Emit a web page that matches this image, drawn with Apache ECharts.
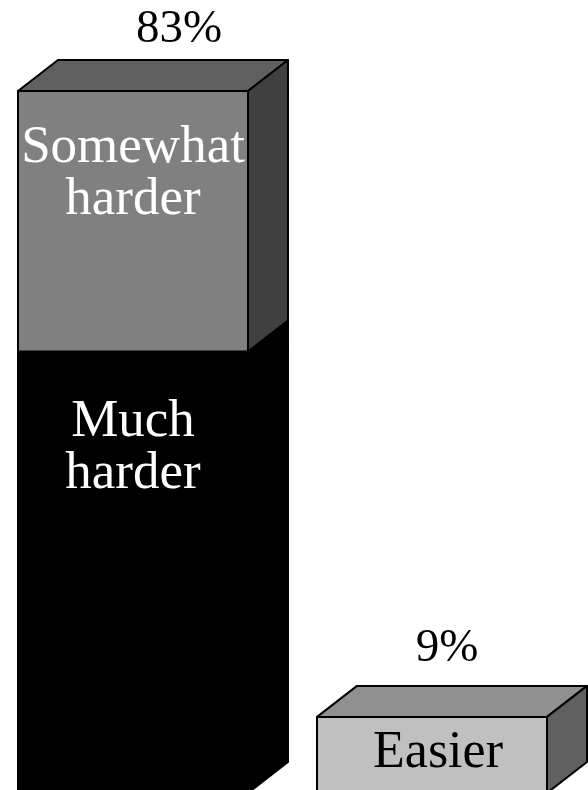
<!DOCTYPE html>
<html>
<head>
<meta charset="utf-8">
<style>html,body{margin:0;padding:0;background:#fff}#c{width:588px;height:790px}</style>
<script src="https://cdn.jsdelivr.net/npm/echarts@6/dist/echarts.min.js"></script>
</head>
<body>
<div id="c"></div>
<script>
const categories = ['Harder', 'Easier'];
const totalLabels = ['83%', '9%'];
const segmentNames = ['Much harder', 'Somewhat harder', 'Easier'];
const segmentCategory = [0, 0, 1];
const segmentStart = [0, 52.2, 0];
const segmentEnd = [52.2, 83, 9];

const FRONT = ['#000000', '#808080', '#c0c0c0'];
const TOP = ['#000000', '#606060', '#909090'];
const SIDE = ['#000000', '#404040', '#606060'];
const TEXT = ['#ffffff', '#ffffff', '#000000'];
const TEXT_OFFSET = [97, 83, 36];
const TEXT_SHIFT = [0, 0, 6];
const TEXT_SIZE = [53, 53, 52];
const DEPTH_X = 40, DEPTH_Y = 31;
const FONT = '"Liberation Serif", "Times New Roman", serif';
const PCT_POS = [[46, -61], [15, -68.5]];

const chart = echarts.init(document.getElementById('c'));

function renderItem(params, api) {
  const i = params.dataIndex;
  const cat = api.value(0);
  const c = api.coord([cat, api.value(1)]);
  const t = api.coord([cat, api.value(2)]);
  const w = api.size([1, 0])[0] * 0.7692;
  const x0 = c[0] - w / 2, x1 = c[0] + w / 2, y0 = c[1], y1 = t[1];
  const line = { stroke: '#000', lineWidth: 2, lineJoin: 'round' };
  const children = [
    { type: 'polygon', shape: { points: [[x0, y1], [x0 + DEPTH_X, y1 - DEPTH_Y], [x1 + DEPTH_X, y1 - DEPTH_Y], [x1, y1]] },
      style: Object.assign({ fill: TOP[i] }, line) },
    { type: 'polygon', shape: { points: [[x1, y1], [x1 + DEPTH_X, y1 - DEPTH_Y], [x1 + DEPTH_X, y0 - DEPTH_Y], [x1, y0]] },
      style: Object.assign({ fill: SIDE[i] }, line) },
    { type: 'rect', shape: { x: x0, y: y1, width: x1 - x0, height: y0 - y1 },
      style: Object.assign({ fill: FRONT[i] }, line) },
    { type: 'text', style: { text: segmentNames[i].replace(' ', '\n'), x: c[0] + TEXT_SHIFT[i], y: y1 + TEXT_OFFSET[i],
      fill: TEXT[i], font: TEXT_SIZE[i] + 'px ' + FONT, lineHeight: 52, textAlign: 'center', textVerticalAlign: 'middle' } }
  ];
  const isTop = i === 1 || i === 2;
  if (isTop) {
    const p = PCT_POS[cat];
    children.push({ type: 'text', style: { text: totalLabels[cat], x: c[0] + p[0], y: y1 + p[1],
      fill: '#000', font: '47px ' + FONT, textAlign: 'center', textVerticalAlign: 'middle' } });
  }
  return { type: 'group', children };
}

chart.setOption({
  animation: false,
  backgroundColor: '#ffffff',
  grid: { left: 133, top: 91, width: 299, height: 699 },
  xAxis: { type: 'category', data: categories, show: false, boundaryGap: false },
  yAxis: { type: 'value', min: 0.355, max: 83, show: false },
  series: [{
    type: 'custom',
    clip: false,
    renderItem,
    encode: { x: 0, y: [1, 2] },
    data: segmentNames.map((n, i) => [segmentCategory[i], segmentStart[i], segmentEnd[i]])
  }]
});
</script>
</body>
</html>
